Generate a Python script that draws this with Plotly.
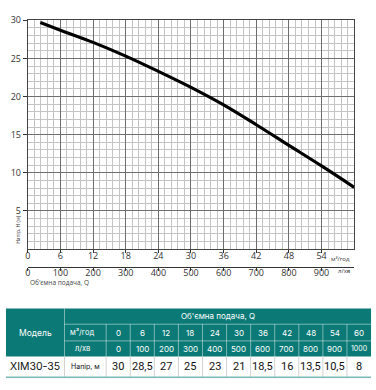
import plotly.graph_objects as go

# ---- data ----
q_m3h = [0, 6, 12, 18, 24, 30, 36, 42, 48, 54, 60]
q_lmin = [0, 100, 200, 300, 400, 500, 600, 700, 800, 900, 1000]
head_m = [30, 28.5, 27, 25, 23, 21, 18.5, 16, 13.5, 10.5, 8]
# curve (it starts a little right of Q=0)
curve_q = [2.3, 6, 12, 18, 24, 30, 36, 42, 48, 54, 60]
curve_h = [29.7, 28.7, 27.1, 25.3, 23.3, 21.2, 18.9, 16.3, 13.6, 10.9, 8.1]
model_name = "XIM30-35"
x_ticks_m3h = [0, 6, 12, 18, 24, 30, 36, 42, 48, 54]
x_ticks_lmin = [0, 100, 200, 300, 400, 500, 600, 700, 800, 900]
y_ticks = [5, 10, 15, 20, 25, 30]

W, H = 376, 390
TEAL = "#0b7a76"
AX_FONT = "Open Sans"
TB_FONT = "Inter"


def fx(px):
    return px / W


def fy(py):
    return 1 - py / H


fig = go.Figure()

fig.add_trace(go.Scatter(
    x=curve_q, y=curve_h, mode="lines",
    line=dict(color="black", width=3.2, shape="spline", smoothing=1.0),
    hoverinfo="skip", showlegend=False, xaxis="x", yaxis="y"))

# invisible trace to keep the l/min axis alive
fig.add_trace(go.Scatter(
    x=q_lmin, y=head_m, mode="lines", line=dict(width=0, color="rgba(0,0,0,0)"),
    hoverinfo="skip", showlegend=False, xaxis="x2", yaxis="y"))

# table axes (pixel-like layout units)
fig.add_trace(go.Scatter(x=[0], y=[390], mode="markers", marker=dict(opacity=0),
                         hoverinfo="skip", showlegend=False, xaxis="x3", yaxis="y3"))

plot_l, plot_r, plot_t, plot_b = 25, 354, 13.5, 246.5

fig.update_layout(
    width=W, height=H, margin=dict(l=0, r=0, t=0, b=0),
    paper_bgcolor="white", plot_bgcolor="white",
    xaxis=dict(domain=[fx(plot_l), fx(plot_r)], range=[0, 60], anchor="y",
               tickvals=x_ticks_m3h, ticks="outside", ticklen=3, tickcolor="#333",
               ticklabelstandoff=-5,
               showline=True, linecolor="#444", linewidth=1, mirror=True,
               showgrid=True, gridcolor="#6e6e6e", gridwidth=1, zeroline=False,
               tickfont=dict(family=AX_FONT, size=9, color="#333"),
               minor=dict(dtick=1.2, tick0=0, showgrid=True, gridcolor="#c4c4c4", gridwidth=1)),
    yaxis=dict(domain=[fy(plot_b), fy(plot_t)], range=[0, 30], anchor="x",
               tickvals=y_ticks, ticks="outside", ticklen=4, tickcolor="#333",
               showline=True, linecolor="#444", linewidth=1, mirror=True,
               showgrid=True, gridcolor="#6e6e6e", gridwidth=1, zeroline=False,
               tickfont=dict(family=AX_FONT, size=9, color="#333"),
               minor=dict(dtick=1, tick0=0, showgrid=True, gridcolor="#c4c4c4", gridwidth=1)),
    xaxis2=dict(overlaying="x", anchor="free", position=fy(265), side="bottom",
                range=[0, 1000], tickvals=x_ticks_lmin, ticks="outside", ticklen=3,
                tickcolor="#333", showline=True, linecolor="#333", linewidth=1,
                ticklabelstandoff=-6,
                showgrid=False, zeroline=False,
                tickfont=dict(family=AX_FONT, size=9, color="#333")),
    xaxis3=dict(domain=[0, 1], range=[0, W], anchor="y3", visible=False, fixedrange=True),
    yaxis3=dict(domain=[0, fy(300)], range=[H, 300], anchor="x3", visible=False, fixedrange=True),
)

ann = []
# axis captions
ann.append(dict(text="м³/год", x=fx(352), y=fy(256.5), xref="paper", yref="paper",
                showarrow=False, font=dict(family=AX_FONT, size=6, color="#333")))
ann.append(dict(text="л/хв", x=fx(353), y=fy(274.5), xref="paper", yref="paper",
                showarrow=False, font=dict(family=AX_FONT, size=6, color="#333")))
ann.append(dict(text="Напір, H (м)", x=fx(10), y=fy(226), xref="paper", yref="paper",
                showarrow=False, textangle=-90, font=dict(family=AX_FONT, size=5, color="#333")))
ann.append(dict(text="Об'ємна подача, Q", x=fx(25), y=fy(287.5), xref="paper", yref="paper",
                xanchor="left", showarrow=False, font=dict(family=AX_FONT, size=6.5, color="#444")))

# ---- table ----
t_left, t_model_r, t_unit_r, t_right = 3, 62, 104, 371
rows = [307, 323, 340, 356, 377]
ncol = len(q_m3h)
cw = (t_right - t_unit_r) / ncol
edges = [t_unit_r + i * cw for i in range(ncol + 1)]

shapes = []
shapes.append(dict(type="rect", xref="x3", yref="y3", x0=t_left, x1=t_right,
                   y0=rows[0], y1=rows[3], fillcolor=TEAL, line=dict(width=0), layer="below"))
sep = "rgba(255,255,255,0.45)"


def line(x0, y0, x1, y1, color, w=1):
    shapes.append(dict(type="line", xref="x3", yref="y3", x0=x0, y0=y0, x1=x1, y1=y1,
                       line=dict(color=color, width=w)))


line(t_model_r, rows[0], t_model_r, rows[3], sep)
line(t_model_r, rows[1], t_right, rows[1], sep)
line(t_model_r, rows[2], t_right, rows[2], sep)
for e in edges[:-1]:
    line(e, rows[1], e, rows[3], sep)
# data row separators
for e in [t_model_r] + edges[:-1]:
    line(e, rows[3], e, rows[4], "#d2d2d2")
line(t_left, rows[4], t_right, rows[4], "#79bab7", 1.5)


def txt(s, x, y, size, color, fam=TB_FONT):
    ann.append(dict(text=s, x=x, y=y, xref="x3", yref="y3", showarrow=False,
                    font=dict(family=fam, size=size, color=color)))


mid = lambda a, b: (a + b) / 2
txt("Модель", mid(t_left, t_model_r), mid(rows[0], rows[3]), 8.5, "white")
txt("Об'ємна подача, Q", mid(t_model_r, t_right), mid(rows[0], rows[1]), 8, "white")
txt("м³/год", mid(t_model_r, t_unit_r) - 3, mid(rows[1], rows[2]), 7.5, "white")
txt("л/хв", mid(t_model_r, t_unit_r) - 3, mid(rows[2], rows[3]), 7.5, "white")
for i in range(ncol):
    cx = mid(edges[i], edges[i + 1])
    txt(str(q_m3h[i]), cx, mid(rows[1], rows[2]), 8, "white")
    lab = str(q_lmin[i])
    txt(lab, cx, mid(rows[2], rows[3]), 8 if len(lab) < 4 else 7, "white")
    txt(str(head_m[i]).replace(".", ","), cx, mid(rows[3], rows[4]), 11, "#111", "Roboto")
txt(model_name, mid(t_left, t_model_r), mid(rows[3], rows[4]), 10.5, "#111")
txt("Напір, м", mid(t_model_r, t_unit_r), mid(rows[3], rows[4]), 7, "#111")

fig.update_layout(annotations=ann, shapes=shapes)
fig.write_html("out.html")
